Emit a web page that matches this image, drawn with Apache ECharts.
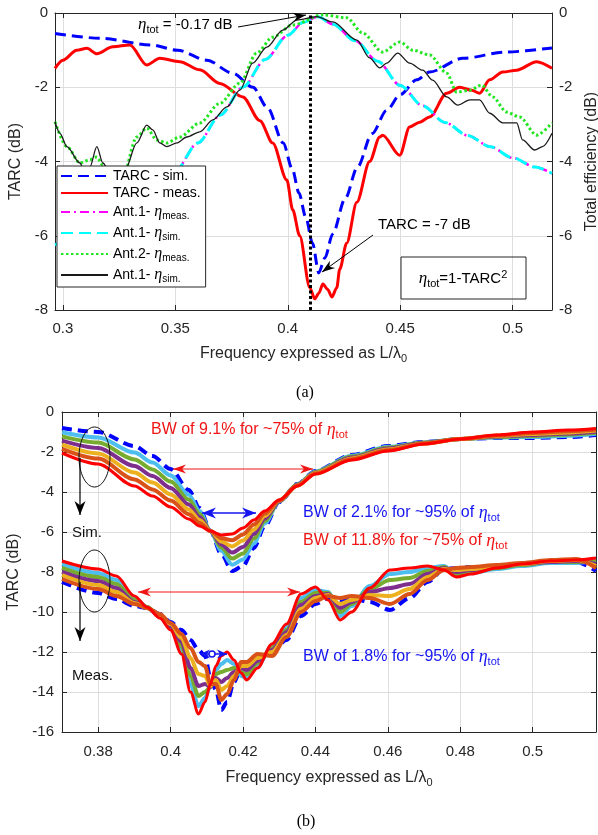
<!DOCTYPE html>
<html><head><meta charset="utf-8">
<script src="https://cdn.jsdelivr.net/npm/echarts@6/dist/echarts.min.js"></script>
<style>html,body{margin:0;padding:0;background:#fff}#c{width:598px;height:835px}</style>
</head><body><div id="c"></div>
<script>
const FONT='"Liberation Sans", Arial, sans-serif';
const SERIF='"Liberation Serif", "Times New Roman", serif';
const AX='#262626', GRIDC='#dedede';

// ---------- (a) data ----------
const tarcSimX=[0.2965,0.3165,0.339,0.351,0.364,0.3755,0.3845,0.391,0.398,0.402,0.405,0.408,0.411,0.4138,0.4165,0.42,0.4255,0.431,0.4375,0.444,0.45,0.4573,0.4631,0.4778,0.4973,0.5175];
const tarcSimY=[-0.55,-0.68,-0.86,-1.0,-1.27,-1.62,-2.0,-2.55,-3.5,-4.2,-4.85,-5.5,-6.2,-7.0,-6.6,-5.95,-5.0,-4.15,-3.25,-2.62,-2.2,-1.8,-1.59,-1.22,-1.05,-0.94];
const tarcMeasX=[0.2965,0.3,0.3062,0.3107,0.3151,0.3222,0.3298,0.3373,0.3431,0.352,0.3609,0.3698,0.38,0.3876,0.3933,0.3996,0.4022,0.4053,0.4098,0.412,0.4138,0.4156,0.4178,0.4196,0.4218,0.4231,0.4262,0.4307,0.4364,0.4409,0.4422,0.4498,0.4542,0.4587,0.4631,0.4707,0.4764,0.4818,0.4853,0.4898,0.4956,0.5018,0.5107,0.5175];
const tarcMeasY=[-1.49,-1.27,-1.0,-0.95,-1.1,-0.91,-0.86,-1.4,-1.22,-1.31,-1.53,-1.9,-2.26,-2.9,-3.5,-4.5,-5.3,-6.0,-7.4,-7.7,-7.55,-7.3,-7.45,-7.65,-7.4,-6.9,-6.2,-5.1,-4.0,-3.34,-3.29,-3.83,-3.07,-2.94,-2.8,-2.16,-2.0,-2.08,-2.16,-1.8,-1.59,-1.54,-1.31,-1.49];
const ant1SimX=[0.2965,0.31,0.32,0.33,0.34,0.35,0.36,0.37,0.38,0.39,0.40,0.407,0.4135,0.42,0.43,0.44,0.45,0.46,0.47,0.48,0.49,0.50,0.51,0.5175];
const ant1SimY=[-6.25,-5.95,-5.65,-5.3,-4.85,-4.25,-3.5,-2.75,-2.0,-1.25,-0.6,-0.25,-0.1,-0.3,-0.75,-1.3,-1.95,-2.5,-2.95,-3.3,-3.6,-3.9,-4.15,-4.32];
const ant1MeasX=[0.3,0.31,0.32,0.33,0.34,0.35,0.36,0.37,0.38,0.39,0.40,0.407,0.4135,0.42,0.43,0.44,0.45,0.46,0.47,0.48,0.49,0.50,0.51,0.5175];
const ant1MeasY=[-6.12,-5.93,-5.63,-5.28,-4.84,-4.25,-3.5,-2.75,-2.0,-1.25,-0.6,-0.25,-0.1,-0.3,-0.75,-1.3,-1.95,-2.5,-2.95,-3.3,-3.6,-3.9,-4.15,-4.32];
const ant2MeasX=[0.2965,0.3018,0.3076,0.312,0.3151,0.3178,0.3222,0.3262,0.3329,0.3373,0.3418,0.3462,0.352,0.3609,0.3698,0.3787,0.3862,0.3933,0.4022,0.4156,0.4262,0.4333,0.4422,0.4498,0.4556,0.4631,0.4707,0.4751,0.4809,0.4862,0.4911,0.4973,0.5031,0.5107,0.5175];
const ant2MeasY=[-2.93,-3.6,-4.04,-3.95,-3.88,-4.1,-4.5,-4.5,-3.34,-3.1,-3.42,-3.5,-3.34,-2.96,-2.43,-1.89,-1.08,-0.65,-0.32,-0.05,-0.13,-0.54,-1.05,-0.78,-1.0,-1.13,-1.62,-2.13,-2.08,-1.94,-2.26,-2.67,-2.8,-3.29,-2.96];
const ant1Sim2X=[0.2965,0.2987,0.3018,0.3076,0.3098,0.312,0.3151,0.3178,0.3209,0.324,0.3276,0.3329,0.3373,0.34,0.3431,0.3462,0.3507,0.3551,0.3609,0.3667,0.3729,0.3787,0.3844,0.3907,0.3978,0.404,0.4129,0.42,0.4307,0.4364,0.4409,0.444,0.4489,0.4542,0.46,0.4644,0.4707,0.4756,0.4809,0.4853,0.4898,0.4956,0.5018,0.5044,0.5098,0.5133,0.5175];
const ant1Sim2Y=[-2.93,-3.24,-3.6,-4.04,-4.31,-4.15,-3.6,-4.04,-4.31,-4.4,-4.23,-3.5,-3.02,-3.15,-3.5,-3.6,-3.5,-3.34,-3.2,-2.88,-2.53,-2.08,-1.35,-0.92,-0.46,-0.19,-0.1,-0.24,-0.73,-1.21,-1.48,-1.35,-1.08,-1.35,-1.54,-1.81,-2.26,-2.48,-2.34,-2.34,-2.7,-2.96,-2.96,-3.42,-3.69,-3.6,-3.24];
const peakX=0.4138;

// ---------- (b) data ----------
const simX=[0.37,0.38,0.39,0.395,0.40,0.405,0.408,0.411,0.414,0.417,0.42,0.423,0.426,0.43,0.435,0.44,0.45,0.46,0.47,0.48,0.49,0.50,0.51,0.5175];
const simBlue=[-0.8,-1.0,-1.7,-2.2,-2.85,-3.9,-4.8,-5.95,-7.1,-7.95,-7.7,-6.8,-5.7,-4.5,-3.6,-2.95,-2.15,-1.7,-1.5,-1.35,-1.3,-1.3,-1.25,-1.15];
const sim1=[-1.01,-1.27,-2.03,-2.53,-3.17,-4.14,-4.95,-5.95,-6.94,-7.64,-7.38,-6.57,-5.57,-4.48,-3.62,-2.98,-2.19,-1.74,-1.52,-1.35,-1.27,-1.25,-1.19,-1.09];
const sim2=[-1.22,-1.53,-2.37,-2.87,-3.48,-4.38,-5.1,-5.95,-6.78,-7.33,-7.07,-6.33,-5.45,-4.47,-3.63,-3.0,-2.23,-1.78,-1.53,-1.35,-1.25,-1.2,-1.13,-1.04];
const sim3=[-1.43,-1.8,-2.7,-3.2,-3.8,-4.63,-5.25,-5.95,-6.63,-7.03,-6.75,-6.1,-5.33,-4.45,-3.65,-3.03,-2.28,-1.83,-1.55,-1.35,-1.23,-1.15,-1.08,-0.99];
const sim4=[-1.63,-2.07,-3.03,-3.53,-4.12,-4.87,-5.4,-5.95,-6.47,-6.72,-6.43,-5.87,-5.2,-4.43,-3.67,-3.05,-2.32,-1.87,-1.57,-1.35,-1.2,-1.1,-1.02,-0.93];
const sim5=[-1.84,-2.33,-3.37,-3.87,-4.43,-5.11,-5.55,-5.95,-6.31,-6.41,-6.12,-5.63,-5.08,-4.42,-3.68,-3.08,-2.36,-1.91,-1.58,-1.35,-1.18,-1.05,-0.96,-0.88];
const simRed=[-2.05,-2.6,-3.7,-4.2,-4.75,-5.35,-5.7,-5.95,-6.15,-6.1,-5.8,-5.4,-4.95,-4.4,-3.7,-3.1,-2.4,-1.95,-1.6,-1.35,-1.15,-1.0,-0.9,-0.82];

const measX=[0.37,0.38,0.385,0.39,0.3935,0.397,0.40,0.403,0.4055,0.4077,0.4095,0.411,0.4125,0.414,0.4156,0.4175,0.4195,0.421,0.424,0.428,0.432,0.436,0.44,0.4435,0.4468,0.45,0.455,0.4606,0.466,0.471,0.4755,0.479,0.483,0.49,0.497,0.505,0.512,0.5175];
const measRed=[-7.45,-7.85,-8.2,-9.2,-9.75,-10.3,-10.9,-12.1,-14.0,-15.1,-14.5,-13.6,-12.7,-12.2,-12.0,-12.4,-13.05,-13.4,-12.8,-11.6,-10.6,-9.1,-8.75,-9.4,-10.4,-10.0,-8.8,-7.9,-7.8,-7.7,-7.9,-8.25,-8.1,-7.8,-7.6,-7.45,-7.4,-7.3];
const meas1=[-7.6,-8.05,-8.4,-9.3,-9.75,-10.25,-10.8,-11.9,-13.6,-14.7,-14.3,-13.7,-12.9,-12.6,-12.4,-12.6,-13.2,-13.3,-12.7,-11.7,-10.75,-9.3,-8.9,-9.0,-10.2,-9.7,-8.7,-8.1,-8.0,-7.8,-7.7,-8.15,-8.05,-7.85,-7.7,-7.55,-7.55,-7.4];
const meas2=[-7.8,-8.25,-8.6,-9.4,-9.75,-10.2,-10.7,-11.7,-13.2,-14.2,-14.0,-13.75,-13.1,-13.0,-12.9,-12.8,-13.0,-13.1,-12.55,-11.8,-10.9,-9.5,-9.05,-9.05,-10.0,-9.6,-8.85,-8.4,-8.3,-7.95,-7.75,-8.1,-8.0,-7.8,-7.65,-7.5,-7.5,-7.5];
const meas3=[-8.0,-8.45,-8.8,-9.5,-9.8,-10.2,-10.7,-11.5,-12.8,-13.7,-13.6,-13.75,-13.3,-13.5,-13.3,-13.0,-12.8,-12.9,-12.45,-11.9,-11.0,-9.65,-9.2,-9.1,-9.8,-9.5,-9.0,-8.8,-8.6,-8.1,-7.8,-8.0,-7.9,-7.75,-7.6,-7.5,-7.45,-7.6];
const meas4=[-8.15,-8.65,-9.0,-9.55,-9.8,-10.15,-10.6,-11.3,-12.3,-13.1,-13.2,-13.7,-13.4,-13.9,-13.7,-13.2,-12.7,-12.7,-12.3,-12.0,-11.15,-9.85,-9.3,-9.15,-9.6,-9.4,-9.15,-9.2,-8.85,-8.25,-7.85,-7.9,-7.85,-7.7,-7.6,-7.45,-7.4,-7.7];
const meas5=[-8.35,-8.85,-9.2,-9.6,-9.8,-10.1,-10.55,-11.1,-11.8,-12.5,-12.7,-13.6,-13.6,-14.4,-14.1,-13.4,-12.5,-12.5,-12.1,-12.2,-11.25,-10.0,-9.45,-9.2,-9.3,-9.2,-9.3,-9.6,-9.1,-8.4,-7.9,-7.8,-7.75,-7.65,-7.55,-7.4,-7.35,-7.8];
const measBlue=[-8.5,-9.05,-9.35,-9.7,-9.8,-10.1,-10.5,-10.9,-11.4,-11.9,-12.2,-13.3,-13.9,-14.9,-14.5,-13.5,-12.8,-12.6,-12.3,-12.0,-11.4,-10.2,-9.6,-9.3,-9.5,-9.3,-9.5,-9.9,-9.3,-8.5,-7.85,-7.8,-7.75,-7.75,-7.6,-7.5,-7.5,-7.95];
const bundleColors=['#4DBEEE','#77AC30','#7E2F8E','#EDB120','#D95319'];

// ---------- helpers ----------
const pts=(xs,ys)=>xs.map((x,i)=>[x,ys[i]]);
function rich(sz,col){
  const s=Math.round(sz*0.7), off=Math.round(sz*0.6);
  return {
    n:{fontSize:sz,lineHeight:sz+6,fontFamily:FONT,color:col},
    e:{fontSize:sz+2,lineHeight:sz+6,fontFamily:SERIF,fontStyle:'italic',color:col},
    s:{fontSize:s,lineHeight:s,padding:[off,0,0,0],fontFamily:FONT,color:col},
    p:{fontSize:s,lineHeight:s,padding:[0,0,off,0],fontFamily:FONT,color:col}
  };
}
function fmtStep(step){return v=>{const k=v/step;return Math.abs(k-Math.round(k))<1e-6?String(+v.toFixed(3)):'';};}
function L(name,xs,ys,xi,yi,color,width,type,extra){
  return Object.assign({name,type:'line',xAxisIndex:xi,yAxisIndex:yi,data:pts(xs,ys),symbol:'none',showSymbol:false,
    smooth:0.3,smoothMonotone:'x',lineStyle:{color,width,type,cap:'butt'},itemStyle:{color},silent:true},extra||{});
}
const tick={show:true,inside:true,length:5,lineStyle:{color:AX}};
const aline={show:true,onZero:false,lineStyle:{color:AX,width:1}};
const lab=(show,fmt,margin)=>({show,fontSize:15,color:AX,fontFamily:FONT,margin:margin,formatter:fmt});
const nameStyle={fontSize:16,color:AX,fontFamily:FONT,rich:rich(16,AX)};

const legendLabels={
  tarcSim:'{n|TARC - sim.}',
  tarcMeas:'{n|TARC - meas.}',
  a1meas:'{n|Ant.1- }{e|η}{s|meas.}',
  a1sim:'{n|Ant.1- }{e|η}{s|sim.}',
  a2meas:'{n|Ant.2- }{e|η}{s|meas.}',
  a1sim2:'{n|Ant.1- }{e|η}{s|sim.}'
};

const series=[
  L('tarcSim',tarcSimX,tarcSimY,0,0,'#0000ff',3,[11,6]),
  L('tarcMeas',tarcMeasX,tarcMeasY,0,0,'#ff0000',3,'solid'),
  L('a1meas',ant1MeasX,ant1MeasY,0,1,'#ff00ff',2.5,[9,4,2,4]),
  L('a1sim',ant1SimX,ant1SimY,0,1,'#00ffff',3,[12,6]),
  L('a2meas',ant2MeasX,ant2MeasY,0,1,'#22e622',3,[2.5,2.5]),
  L('a1sim2',ant1Sim2X,ant1Sim2Y,0,1,'#1a1a1a',1.3,'solid',{
    markLine:{silent:true,symbol:['none','none'],label:{show:false},animation:false,
      lineStyle:{color:'#000',width:3,type:[3,2.5]},data:[{xAxis:peakX}]}
  }),
  L('simB',simX,simBlue,2,2,'#0000ff',4,[10,6]),
  L('sim1',simX,sim1,2,2,bundleColors[0],4,'solid'),
  L('sim2',simX,sim2,2,2,bundleColors[1],4,'solid'),
  L('sim3',simX,sim3,2,2,bundleColors[2],4,'solid'),
  L('sim4',simX,sim4,2,2,bundleColors[3],4,'solid'),
  L('sim5',simX,sim5,2,2,bundleColors[4],4,'solid'),
  L('simR',simX,simRed,2,2,'#ff0000',3,'solid'),
  L('measB',measX,measBlue,2,2,'#0000ff',4,[10,6]),
  L('meas1',measX,meas1,2,2,bundleColors[0],4,'solid'),
  L('meas2',measX,meas2,2,2,bundleColors[1],4,'solid'),
  L('meas3',measX,meas3,2,2,bundleColors[2],4,'solid'),
  L('meas4',measX,meas4,2,2,bundleColors[3],4,'solid'),
  L('meas5',measX,meas5,2,2,bundleColors[4],4,'solid'),
  L('measR',measX,measRed,2,2,'#ff0000',3,'solid')
];

// annotation helpers (pixel)
function arrowHead(tip,from,len,w,color){
  const dx=tip[0]-from[0],dy=tip[1]-from[1],D=Math.hypot(dx,dy),ux=dx/D,uy=dy/D;
  const bx=tip[0]-ux*len,by=tip[1]-uy*len, nx=tip[0]-ux*len*0.7, ny=tip[1]-uy*len*0.7;
  return {type:'polygon',z:100,silent:true,shape:{points:[tip,[bx-uy*w/2,by+ux*w/2],[nx,ny],[bx+uy*w/2,by-ux*w/2]]},style:{fill:color}};
}
function arrow(a,b,color,lw,len,w,both){
  const g=[{type:'line',z:100,silent:true,shape:{x1:a[0],y1:a[1],x2:b[0],y2:b[1]},style:{stroke:color,lineWidth:lw}}];
  g.push(arrowHead(b,a,len,w,color));
  if(both) g.push(arrowHead(a,b,len,w,color));
  return g;
}
function txt(x,y,t,sz,col,align){
  return {type:'text',z:100,silent:true,x,y,style:{text:t,rich:rich(sz,col),align:align||'left',verticalAlign:'middle',fill:col,font:sz+'px '+FONT}};
}
const RED='#f01515', BLUE='#1515f0';

const option={
  animation:false,
  backgroundColor:'#fff',
  grid:[
    {left:55,top:13,width:497,height:297,containLabel:false,outerBoundsMode:'none'},
    {left:62,top:412,width:534,height:320,containLabel:false,outerBoundsMode:'none'}
  ],
  xAxis:[
    {gridIndex:0,type:'value',min:0.2965,max:0.5175,splitNumber:5,position:'bottom',axisLine:aline,axisTick:tick,
     axisLabel:lab(true,fmtStep(0.05),11),splitLine:{show:true,lineStyle:{color:GRIDC}},
     name:'Frequency expressed as L/λ{s|0}',nameLocation:'middle',nameGap:36,nameTextStyle:nameStyle},
    {gridIndex:0,type:'value',min:0.2965,max:0.5175,splitNumber:5,position:'top',axisLine:aline,axisTick:tick,
     axisLabel:{show:false},splitLine:{show:false}},
    {gridIndex:1,type:'value',min:0.37,max:0.5175,splitNumber:7,position:'bottom',axisLine:aline,axisTick:tick,
     axisLabel:lab(true,fmtStep(0.02),12),splitLine:{show:true,lineStyle:{color:GRIDC}},
     name:'Frequency expressed as L/λ{s|0}',nameLocation:'middle',nameGap:38,nameTextStyle:nameStyle},
    {gridIndex:1,type:'value',min:0.37,max:0.5175,splitNumber:7,position:'top',axisLine:aline,axisTick:tick,
     axisLabel:{show:false},splitLine:{show:false}}
  ],
  yAxis:[
    {gridIndex:0,type:'value',min:-8,max:0,interval:2,position:'left',axisLine:aline,axisTick:tick,
     axisLabel:lab(true,null,7),splitLine:{show:true,lineStyle:{color:GRIDC}},
     name:'TARC (dB)',nameLocation:'middle',nameGap:27,nameTextStyle:nameStyle},
    {gridIndex:0,type:'value',min:-8,max:0,interval:2,position:'right',axisLine:aline,axisTick:tick,
     axisLabel:lab(true,null,7),splitLine:{show:false},
     name:'Total efficiency (dB)',nameLocation:'middle',nameGap:29,nameTextStyle:nameStyle},
    {gridIndex:1,type:'value',min:-16,max:0,interval:2,position:'left',axisLine:aline,axisTick:tick,
     axisLabel:lab(true,null,8),splitLine:{show:true,lineStyle:{color:GRIDC}},
     name:'TARC (dB)',nameLocation:'middle',nameGap:38,nameTextStyle:nameStyle},
    {gridIndex:1,type:'value',min:-16,max:0,interval:2,position:'right',axisLine:aline,axisTick:tick,
     axisLabel:{show:false},splitLine:{show:false}}
  ],
  legend:[{
    left:57,top:166,orient:'vertical',itemWidth:47,itemHeight:14,itemGap:3,padding:[3,5,3,3],
    backgroundColor:'#fff',borderColor:AX,borderWidth:1,borderRadius:0,selectedMode:false,z:50,
    itemStyle:{opacity:0},
    data:Object.keys(legendLabels),formatter:n=>legendLabels[n],
    textStyle:{fontSize:14,fontFamily:FONT,color:'#000',rich:rich(14,'#000')}
  }],
  series
};

const chart=echarts.init(document.getElementById('c'));
chart.setOption(option);

// annotations
const g=[];
// (a)
g.push(txt(138,25,'{e|η}{s|tot}{n| = -0.17 dB}',15,'#000'));
g.push(...arrow([238,27],[306,15],'#000',1,13,9,false));
g.push(txt(378,225,'{n|TARC = -7 dB}',15,'#000'));
g.push(...arrow([373,235],[322,272],'#000',1,13,9,false));
g.push({type:'rect',z:100,silent:true,shape:{x:401,y:257,width:125,height:42},style:{fill:null,stroke:AX,lineWidth:1}});
g.push(txt(463,279,'{e|η}{s|tot}{n|=1-TARC}{p|2}',15,'#000','center'));
g.push(txt(305,393,'(a)',16,'#000','center'));
g[g.length-1].style.font='16px '+SERIF; g[g.length-1].style.rich={};
// (b)
g.push({type:'ellipse',z:100,silent:true,shape:{cx:94.5,cy:457,rx:15.5,ry:30},style:{fill:null,stroke:'#111',lineWidth:1}});
g.push(...arrow([80,458],[80,515],'#000',1.2,14,11,false));
g.push(txt(72,533,'{n|Sim.}',15,'#111'));
g.push({type:'ellipse',z:100,silent:true,shape:{cx:94.5,cy:581,rx:15.5,ry:31},style:{fill:null,stroke:'#111',lineWidth:1}});
g.push(...arrow([80,582],[80,641],'#000',1.2,14,11,false));
g.push(txt(72,676,'{n|Meas.}',15,'#111'));
g.push(txt(151,430,'{n|BW of 9.1% for ~75% of }{e|η}{s|tot}',16,RED));
g.push(...arrow([173,469],[313,469],RED,1,13,9,true));
g.push(...arrow([202,513],[256,513],BLUE,1.5,14,11,true));
g.push(txt(303,513,'{n|BW of 2.1% for ~95% of }{e|η}{s|tot}',16,BLUE));
g.push(txt(303,541,'{n|BW of 11.8% for ~75% of }{e|η}{s|tot}',16,RED));
g.push(...arrow([138,592],[300,592],RED,1,13,9,true));
g.push(...arrow([200,654],[227,654],BLUE,1.5,10,9,true));
g.push({type:'circle',z:100,silent:true,shape:{cx:212,cy:654,r:3},style:{fill:'#fff',stroke:BLUE,lineWidth:1.5}});
g.push(txt(303,657,'{n|BW of 1.8% for ~95% of }{e|η}{s|tot}',16,BLUE));
g.push(txt(306,822,'(b)',16,'#000','center'));
g[g.length-1].style.font='16px '+SERIF; g[g.length-1].style.rich={};
chart.setOption({graphic:{elements:g}});
</script></body></html>
